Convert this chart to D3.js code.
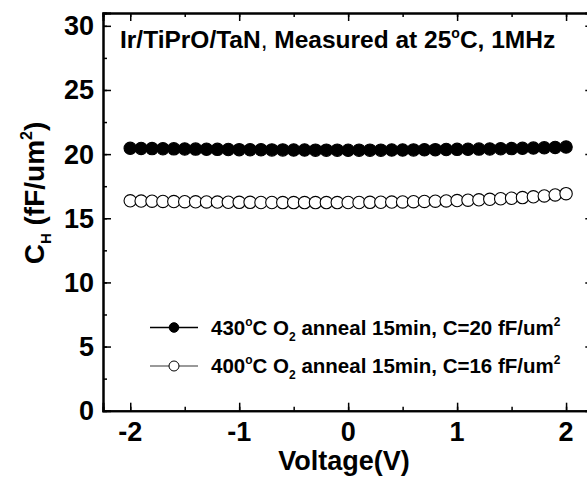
<!DOCTYPE html>
<html>
<head>
<meta charset="utf-8">
<script src="https://cdn.jsdelivr.net/npm/d3@7"></script>
<style>
  body { margin: 0; background: #fff; }
  svg { display: block; font-family: "Liberation Sans", Arial, sans-serif; font-weight: bold; }
</style>
</head>
<body>
<svg width="587" height="477"></svg>
<script>
// data
const voltage = d3.range(41).map(i => -2 + i * 0.1);
const c430 = [20.45,20.44,20.43,20.42,20.41,20.40,20.39,20.38,20.37,20.36,20.35,20.34,20.34,20.33,20.33,20.32,20.32,20.31,20.31,20.31,20.30,
              20.31,20.31,20.31,20.32,20.32,20.33,20.34,20.35,20.36,20.37,20.38,20.39,20.40,20.42,20.43,20.45,20.47,20.49,20.52,20.55];
const c400 = [16.36,16.34,16.33,16.31,16.30,16.29,16.28,16.27,16.26,16.25,16.24,16.24,16.23,16.23,16.22,16.22,16.22,16.22,16.22,16.22,16.23,
              16.23,16.24,16.25,16.26,16.27,16.29,16.31,16.33,16.35,16.38,16.41,16.44,16.48,16.52,16.56,16.61,16.67,16.74,16.82,16.92];
const xTicks = [-2, -1, 0, 1, 2];
const yTicks = [0, 5, 10, 15, 20, 25, 30];

const svg = d3.select("svg");
const x = d3.scaleLinear().domain([-2.25, 2.25]).range([103, 593.3]);
const y = d3.scaleLinear().domain([0, 31]).range([410.7, 13]);

const xMinor = d3.range(-2.5, 2.51, 0.5).filter(v => v > -2.25 && v < 2.25);
const yMinor = d3.range(0, 31, 2.5);

// frame with inward ticks on all four sides
function axis(gen, tx, ty, major, minor) {
    const g = svg.append("g").attr("transform", `translate(${tx},${ty})`);
    g.call(gen.tickValues(minor).tickSize(4).tickFormat(""));
    const g2 = svg.append("g").attr("transform", `translate(${tx},${ty})`);
    g2.call(gen.tickValues(major).tickSize(8).tickFormat(""));
    [g, g2].forEach(s => {
        s.selectAll("path").attr("stroke", "#000").attr("stroke-width", 2);
        s.selectAll("line").attr("stroke", "#000").attr("stroke-width", 1.5);
    });
}
axis(d3.axisTop(x), 0, y.range()[0], xTicks, xMinor);
axis(d3.axisBottom(x), 0, y.range()[1], xTicks, xMinor);
axis(d3.axisRight(y), x.range()[0], 0, yTicks, yMinor);
axis(d3.axisLeft(y), x.range()[1], 0, yTicks, yMinor);

// tick labels
svg.selectAll(".xl").data(xTicks).join("text")
    .attr("x", d => x(d)).attr("y", 441)
    .attr("text-anchor", "middle").attr("font-size", 27)
    .text(d => d);
svg.selectAll(".yl").data(yTicks).join("text")
    .attr("x", 94).attr("y", d => y(d) + 9.5)
    .attr("text-anchor", "end").attr("font-size", 27)
    .text(d => d);

// axis titles
svg.append("text").attr("x", 344).attr("y", 470)
    .attr("text-anchor", "middle").attr("font-size", 27).text("Voltage(V)");
const yt = svg.append("text").attr("transform", "translate(44,193) rotate(-90)")
    .attr("text-anchor", "middle").attr("font-size", 28);
yt.append("tspan").text("C");
yt.append("tspan").attr("font-size", 15).attr("dy", 7).text("H");
yt.append("tspan").attr("dy", -7).text(" (fF/um");
yt.append("tspan").attr("font-size", 16).attr("dy", -12).text("2");
yt.append("tspan").attr("dy", 12).text(")");

// title
const tt = svg.append("text").attr("x", 120).attr("y", 48).attr("font-size", 24.5);
tt.append("tspan").text("Ir/TiPrO/TaN");
tt.append("tspan").attr("font-weight", "normal").text(", ");
tt.append("tspan").text("Measured at 25");
tt.append("tspan").attr("font-size", 14).attr("dy", -10).text("o");
tt.append("tspan").attr("dy", 10).text("C, 1MHz");

// data
const series = [
    { vals: c430, fill: "#000", line: "#000", temp: "430", c: "20" },
    { vals: c400, fill: "#fff", line: "#777", temp: "400", c: "16" }
];
series.forEach(s => {
    svg.append("g").selectAll("circle").data(voltage).join("circle")
        .attr("cx", d => x(d)).attr("cy", (d, i) => y(s.vals[i])).attr("r", 6.2)
        .attr("fill", s.fill).attr("stroke", "#000").attr("stroke-width", 1.1);
});

// legend
series.forEach((s, i) => {
    const ly = 327.5 + i * 38.5;
    svg.append("line").attr("x1", 150).attr("x2", 198).attr("y1", ly).attr("y2", ly)
        .attr("stroke", s.line).attr("stroke-width", 1.3);
    svg.append("circle").attr("cx", 174).attr("cy", ly).attr("r", i === 0 ? 4.8 : 5)
        .attr("fill", s.fill).attr("stroke", "#000").attr("stroke-width", 1);
    const t = svg.append("text").attr("x", 211).attr("y", ly + 7).attr("font-size", 20.5);
    t.append("tspan").text(s.temp);
    t.append("tspan").attr("font-size", 12).attr("dy", -9).text("o");
    t.append("tspan").attr("dy", 9).text("C O");
    t.append("tspan").attr("font-size", 12).attr("dy", 6).text("2");
    t.append("tspan").attr("dy", -6).text(" anneal 15min, C=" + s.c + " fF/um");
    t.append("tspan").attr("font-size", 12).attr("dy", -9).text("2");
});
</script>
</body>
</html>
